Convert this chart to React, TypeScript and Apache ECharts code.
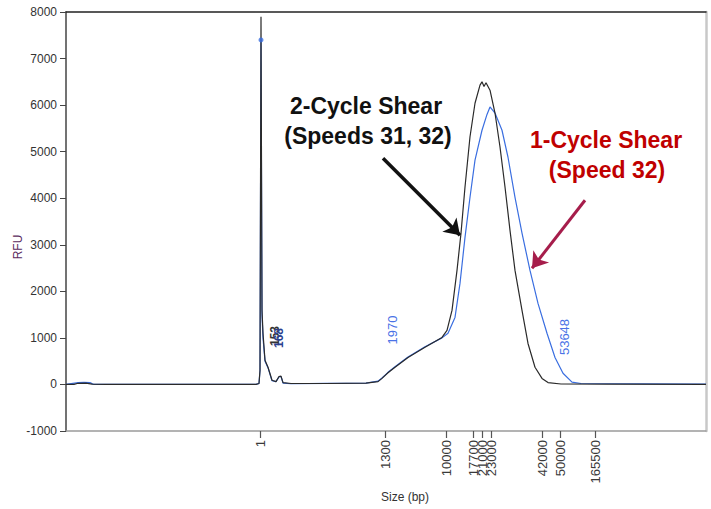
import React, { useEffect, useRef } from "react";
import * as echarts from "echarts";

// Migration position (scan units, 0..640 across the plot) and RFU for each trace
const twoCycleScan = [0, 8, 12, 20, 26, 40, 100, 150, 190, 193, 194, 195, 196, 197, 199, 202, 206, 210, 213, 215, 217, 225, 260, 300, 312, 316, 322, 329, 342, 359, 376, 381, 386, 391, 395, 399, 404, 409, 414, 416, 418, 420, 424, 429, 434, 439, 444, 449, 456, 462, 469, 476, 482, 495, 540, 640];
const twoCycleRfu = [0, 0, 25, 30, 5, 0, 0, 0, 0, 20, 300, 7900, 1600, 1100, 520, 370, 90, 60, 170, 180, 40, 20, 20, 30, 60, 130, 250, 370, 580, 800, 1010, 1160, 1590, 2450, 3250, 4240, 5320, 6040, 6430, 6500, 6400, 6480, 6320, 5830, 5100, 4240, 3310, 2450, 1590, 880, 370, 130, 40, 10, 5, 0];

const oneCycleScan = [0, 12, 18, 24, 28, 190, 193, 194, 195, 196, 197, 199, 202, 206, 210, 213, 215, 217, 225, 260, 300, 312, 316, 322, 329, 342, 359, 376, 382, 389, 394, 399, 404, 409, 416, 421, 424, 429, 436, 442, 449, 456, 464, 472, 481, 489, 497, 506, 515, 640];
const oneCycleRfu = [0, 40, 45, 40, 0, 0, 20, 300, 7400, 1500, 1000, 500, 360, 80, 60, 160, 170, 30, 15, 25, 30, 70, 140, 260, 380, 590, 810, 1000, 1100, 1440, 2170, 3160, 4020, 4820, 5460, 5800, 5960, 5830, 5460, 4880, 4020, 3250, 2450, 1740, 1100, 580, 240, 50, 20, 10];

// Size ladder: labels and the scan positions where they sit
const sizeLabels = ["1", "1300", "10000", "17700", "21000", "23000", "42000", "50000", "165500"];
const sizeScan = [194, 319, 380, 407, 416, 425, 476, 494, 529];

// Peak size calls written on the plot
const peakCallLabels = ["153", "168", "1970", "53648"];

const yTicks = { min: -1000, max: 8000, interval: 1000 };

const FONT = "'Liberation Sans', Arial, sans-serif";

export default function App() {
  const ref = useRef<HTMLDivElement>(null);
  useEffect(() => {
    if (!ref.current) return;
    const chart = echarts.init(ref.current, undefined, { renderer: "svg" });
    const twoCycle = twoCycleScan.map((x, i) => [x, twoCycleRfu[i]]);
    const oneCycle = oneCycleScan.map((x, i) => [x, oneCycleRfu[i]]);
    const labelFor = (v: number) => {
      const i = sizeScan.indexOf(v);
      return i >= 0 ? sizeLabels[i] : "";
    };
    chart.setOption({
      animation: false,
      backgroundColor: "#ffffff",
      textStyle: { fontFamily: FONT },
      grid: { left: 66, right: 5, top: 12, bottom: 78, outerBoundsMode: "none", containLabel: false },
      xAxis: [
        {
          type: "value",
          min: 0,
          max: 640,
          position: "bottom",
          axisLine: { onZero: false, lineStyle: { color: "#9a9a9a", width: 1.5 } },
          splitLine: { show: false },
          axisTick: { show: true, customValues: sizeScan, length: 7, lineStyle: { color: "#555", width: 1.2 } },
          axisLabel: {
            customValues: sizeScan,
            rotate: 90,
            margin: 9,
            fontSize: 13,
            color: "#3a3a3a",
            fontFamily: FONT,
            formatter: (v: number) => labelFor(v),
          },
        },
        {
          type: "value",
          min: 0,
          max: 640,
          position: "top",
          axisLine: { show: true, onZero: false, lineStyle: { color: "#222", width: 1.5 } },
          axisTick: { show: false },
          axisLabel: { show: false },
          splitLine: { show: false },
        },
      ],
      yAxis: [
        {
          type: "value",
          min: yTicks.min,
          max: yTicks.max,
          interval: yTicks.interval,
          position: "left",
          axisLine: { show: true, onZero: false, lineStyle: { color: "#444", width: 1.5 } },
          axisTick: { show: true, length: 6, lineStyle: { color: "#444" } },
          axisLabel: { fontSize: 12, color: "#333", margin: 9, fontFamily: FONT, formatter: (v: number) => String(v) },
          splitLine: { show: false },
        },
        {
          type: "value",
          min: yTicks.min,
          max: yTicks.max,
          interval: yTicks.interval,
          position: "right",
          axisLine: { show: true, onZero: false, lineStyle: { color: "#c8c8c8", width: 2.5 } },
          axisTick: { show: false },
          axisLabel: { show: false },
          splitLine: { show: false },
        },
      ],
      series: [
        {
          name: "1-Cycle Shear (Speed 32)",
          type: "line",
          data: oneCycle,
          showSymbol: false,
          lineStyle: { color: "#3a6ee0", width: 1.2 },
          z: 2,
          markLine: {
            silent: true,
            symbol: ["none", "arrow"],
            symbolSize: 15,
            label: { show: false },
            lineStyle: { color: "#a61d4b", width: 3, type: "solid" },
            data: [[{ coord: [519, 3957] }, { coord: [466, 2495] }]],
          },
        },
        {
          name: "2-Cycle Shear (Speeds 31, 32)",
          type: "line",
          data: twoCycle,
          showSymbol: false,
          lineStyle: { color: "#2a2a2a", width: 1.2 },
          z: 3,
          markLine: {
            silent: true,
            symbol: ["none", "arrow"],
            symbolSize: 15,
            label: { show: false },
            lineStyle: { color: "#111111", width: 3.5, type: "solid" },
            data: [[{ coord: [317, 4860] }, { coord: [394, 3204] }]],
          },
        },
        {
          name: "marker",
          type: "scatter",
          data: [[195, 7400]],
          symbol: "circle",
          symbolSize: 5,
          itemStyle: { color: "#3a6ee0" },
          z: 4,
        },
      ],
      graphic: [
        { type: "text", x: 18, y: 247, rotation: Math.PI / 2, style: { text: "RFU", fontSize: 12, fill: "#5b2c5e", fontFamily: FONT, align: "center", verticalAlign: "middle" } },
        { type: "text", x: 405, y: 497, style: { text: "Size (bp)", fontSize: 12, fill: "#333", fontFamily: FONT, align: "center", verticalAlign: "middle" } },
        { type: "text", x: 275, y: 336, rotation: Math.PI / 2, style: { text: peakCallLabels[0], fontSize: 12, fill: "#333", fontFamily: FONT, fontWeight: "bold", align: "center", verticalAlign: "middle" } },
        { type: "text", x: 279, y: 338, rotation: Math.PI / 2, style: { text: peakCallLabels[1], fontSize: 12, fill: "#2a3f8f", fontFamily: FONT, fontWeight: "bold", align: "center", verticalAlign: "middle" } },
        { type: "text", x: 392, y: 330, rotation: Math.PI / 2, style: { text: peakCallLabels[2], fontSize: 13, fill: "#4a72e6", fontFamily: FONT, align: "center", verticalAlign: "middle" } },
        { type: "text", x: 564, y: 337, rotation: Math.PI / 2, style: { text: peakCallLabels[3], fontSize: 13, fill: "#4a72e6", fontFamily: FONT, align: "center", verticalAlign: "middle" } },
        { type: "text", x: 366, y: 106, style: { text: "2-Cycle Shear", fontSize: 23, fontWeight: "bold", fill: "#111", fontFamily: FONT, align: "center", verticalAlign: "middle" } },
        { type: "text", x: 368, y: 136, style: { text: "(Speeds 31, 32)", fontSize: 23, fontWeight: "bold", fill: "#111", fontFamily: FONT, align: "center", verticalAlign: "middle" } },
        { type: "text", x: 606, y: 140, style: { text: "1-Cycle Shear", fontSize: 23, fontWeight: "bold", fill: "#c00000", fontFamily: FONT, align: "center", verticalAlign: "middle" } },
        { type: "text", x: 607, y: 170, style: { text: "(Speed 32)", fontSize: 23, fontWeight: "bold", fill: "#c00000", fontFamily: FONT, align: "center", verticalAlign: "middle" } },
      ],
    });
    return () => chart.dispose();
  }, []);
  return <div ref={ref} style={{ position: "fixed", left: 0, top: 0, width: 711, height: 509 }} />;
}
